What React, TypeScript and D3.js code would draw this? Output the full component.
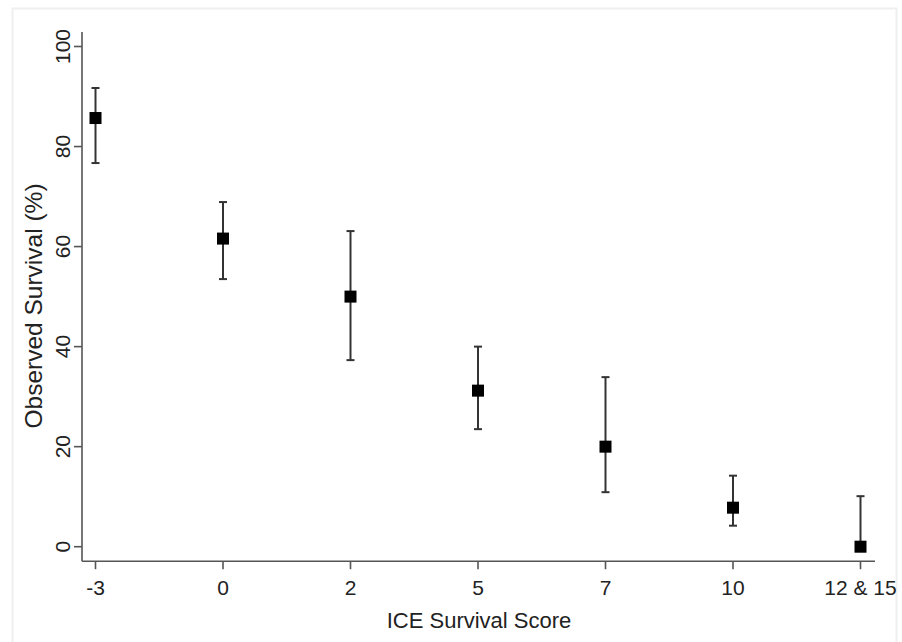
import React from "react";
import * as d3 from "d3";

const categories = ["-3", "0", "2", "5", "7", "10", "12 & 15"];
const survival = [85.7, 61.6, 50.0, 31.2, 20.0, 7.8, 0];
const upperCI = [91.7, 68.9, 63.1, 40.0, 33.9, 14.2, 10.1];
const lowerCI = [76.7, 53.5, 37.3, 23.5, 10.9, 4.2, 0];
const yTicks = [0, 20, 40, 60, 80, 100];

const W = 902;
const H = 642;
const FONT = "Arial, 'Liberation Sans', Helvetica, sans-serif";

export default function App() {
  const x = d3.scalePoint<string>().domain(categories).range([95.5, 860.5]);
  const y = d3.scaleLinear().domain([0, 100]).range([546.7, 46.5]);
  const axisX = 82;
  const axisY = y(-2.9);
  const axisTop = y(102.9);
  const xEnd = 875;
  const axisColor = "#555";
  const barColor = "#333";
  const cap = 4;
  const ms = 12;

  return (
    <svg
      width={W}
      height={H}
      style={{ position: "absolute", left: 0, top: 0, background: "#fff" }}
      fontFamily={FONT}
    >
      <rect x={12.5} y={8.5} width={884} height={640} fill="#fff" stroke="#efefef" strokeWidth={2} />
      {/* axes */}
      <line x1={axisX} x2={axisX} y1={axisTop} y2={axisY} stroke={axisColor} strokeWidth={1.6} />
      <line x1={axisX} x2={xEnd} y1={axisY} y2={axisY} stroke={axisColor} strokeWidth={1.6} />
      {yTicks.map((t) => (
        <g key={"yt" + t}>
          <line x1={axisX - 8} x2={axisX} y1={y(t)} y2={y(t)} stroke={axisColor} strokeWidth={1.6} />
          <text
            transform={`translate(${70},${y(t)}) rotate(-90)`}
            textAnchor="middle"
            fontSize={21}
            fill="#222"
          >
            {t}
          </text>
        </g>
      ))}
      {categories.map((c) => (
        <g key={"xt" + c}>
          <line x1={x(c)} x2={x(c)} y1={axisY} y2={axisY + 8} stroke={axisColor} strokeWidth={1.6} />
          <text x={x(c)} y={595} textAnchor="middle" fontSize={21} fill="#222">
            {c}
          </text>
        </g>
      ))}
      <text x={479} y={628} textAnchor="middle" fontSize={22} fill="#222">
        ICE Survival Score
      </text>
      <text
        transform={`translate(${42},${306}) rotate(-90)`}
        textAnchor="middle"
        fontSize={24.5}
        fill="#222"
      >
        Observed Survival (%)
      </text>
      {/* error bars and markers */}
      {categories.map((c, i) => {
        const cx = x(c) as number;
        return (
          <g key={"pt" + c}>
            <line x1={cx} x2={cx} y1={y(upperCI[i])} y2={y(lowerCI[i])} stroke={barColor} strokeWidth={2} />
            <line x1={cx - cap} x2={cx + cap} y1={y(upperCI[i])} y2={y(upperCI[i])} stroke={barColor} strokeWidth={2} />
            <line x1={cx - cap} x2={cx + cap} y1={y(lowerCI[i])} y2={y(lowerCI[i])} stroke={barColor} strokeWidth={2} />
            <rect x={cx - ms / 2} y={y(survival[i]) - ms / 2} width={ms} height={ms} fill="#000" />
          </g>
        );
      })}
    </svg>
  );
}
